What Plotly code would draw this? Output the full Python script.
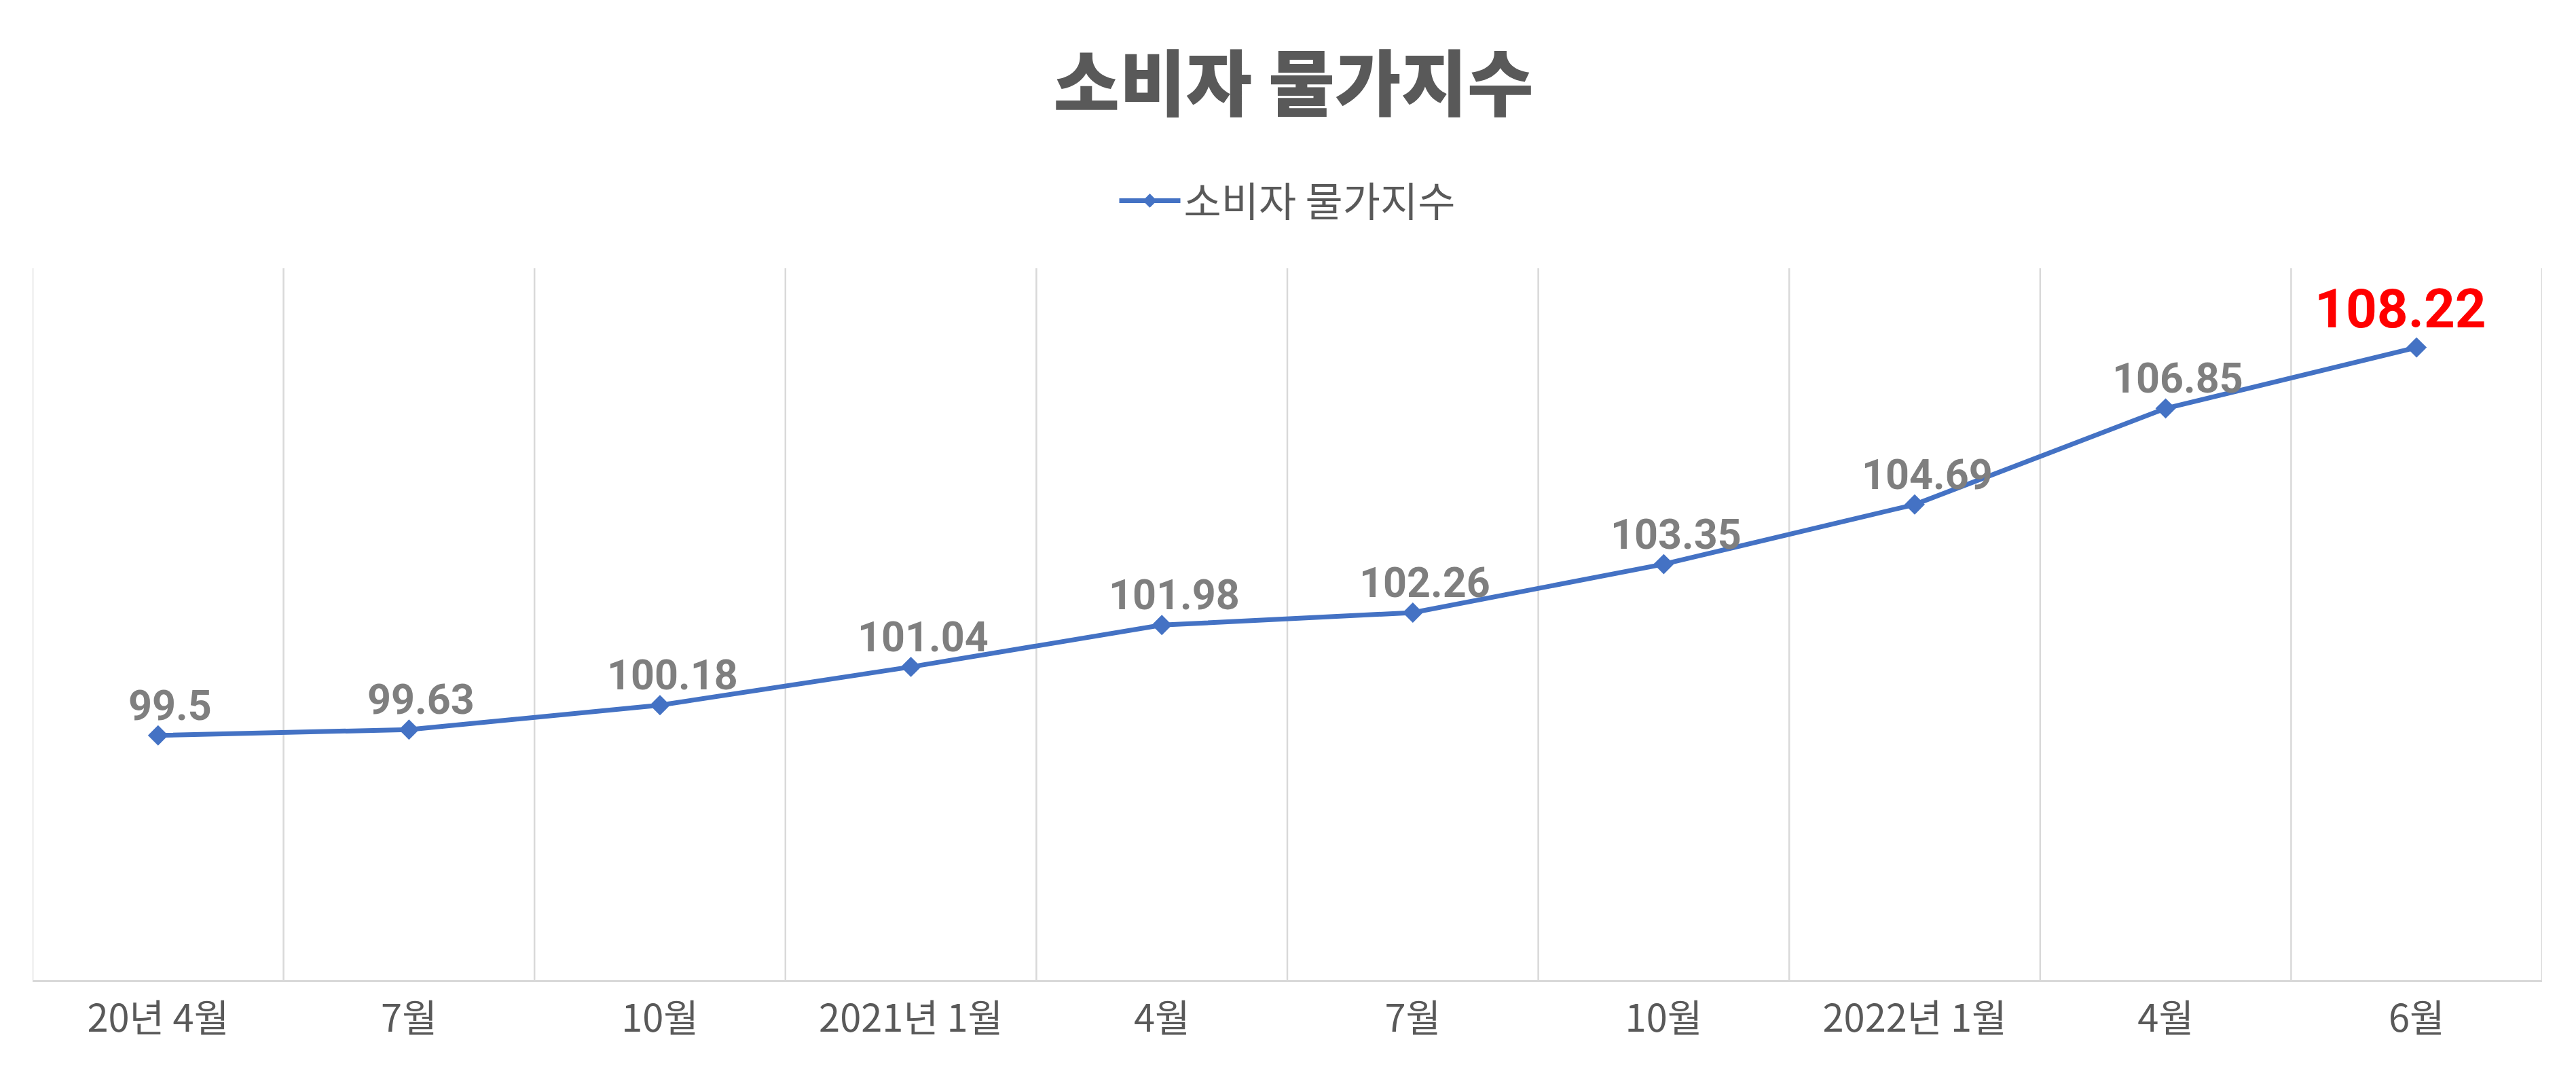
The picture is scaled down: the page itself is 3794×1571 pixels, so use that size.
import plotly.graph_objects as go

# 소비자 물가지수 (2020=100)
months = ['20년 4월', '7월', '10월', '2021년 1월', '4월', '7월', '10월', '2022년 1월', '4월', '6월']
cpi = [99.5, 99.63, 100.18, 101.04, 101.98, 102.26, 103.35, 104.69, 106.85, 108.22]

x_pos = list(range(len(months)))

fig = go.Figure()
fig.add_trace(go.Scatter(
    x=x_pos, y=cpi,
    mode='lines+markers',
    name='소비자 물가지수',
    line=dict(color='#4472C4', width=7),
    marker=dict(symbol='diamond', size=23, color='#4472C4'),
    cliponaxis=False,
))

# data labels, last one highlighted in red
for i, v in enumerate(cpi):
    last = i == len(cpi) - 1
    fig.add_annotation(
        x=i, y=v, text=str(v), showarrow=False,
        xanchor='center', yanchor='bottom',
        xshift=-24 if last else 18, yshift=8 if last else 6,
        font=dict(family='Roboto', size=80 if last else 61,
                  color='#ff0000' if last else '#7f7f7f', weight='bold'),
    )

# page body adds an 8px offset, margins are compensated for it
fig.update_layout(
    width=3794, height=1571,
    paper_bgcolor='white', plot_bgcolor='white',
    margin=dict(l=40, r=58, t=387, b=136),
    title=dict(text='소비자 물가지수', x=0.5, xanchor='center', y=0.9255, yanchor='middle',
               font=dict(family='Noto Sans CJK KR', size=106, color='#595959', weight=900)),
    legend=dict(orientation='h', x=0.5, xanchor='center', y=1.095, yanchor='middle',
                font=dict(family='Noto Sans CJK KR', size=60, color='#595959'),
                itemwidth=90),
    showlegend=True,
)

fig.update_xaxes(
    tickmode='array', tickvals=x_pos, ticktext=months,
    range=[-0.5, len(months) - 0.5],
    showgrid=False,
    showline=True, linecolor='#d9d9d9', linewidth=3,
    ticks='', ticklabelstandoff=6,
    tickfont=dict(family='Noto Sans CJK KR', size=56, color='#595959'),
)
# vertical gridlines at category boundaries
for i in range(len(months) + 1):
    fig.add_vline(x=i - 0.5, line=dict(color='#d9d9d9', width=2.5), layer='below')

fig.update_yaxes(
    range=[94, 110], showgrid=False, showticklabels=False, zeroline=False,
)

fig.write_html('out.html')
